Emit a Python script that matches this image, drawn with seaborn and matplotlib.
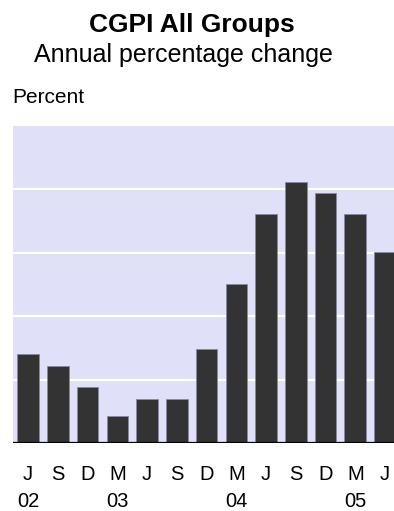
import numpy as np
import pandas as pd
import matplotlib
matplotlib.use("Agg")
import matplotlib.pyplot as plt
import seaborn as sns

# quarterly observations, Jun 2002 to Jun 2005
periods = ["Jun-02", "Sep-02", "Dec-02", "Mar-03", "Jun-03", "Sep-03", "Dec-03",
           "Mar-04", "Jun-04", "Sep-04", "Dec-04", "Mar-05", "Jun-05"]
month_labels = ["J", "S", "D", "M", "J", "S", "D", "M", "J", "S", "D", "M", "J"]
year_labels = ["02", "", "", "03", "", "", "", "04", "", "", "", "05", ""]
annual_change = [1.40, 1.21, 0.89, 0.42, 0.70, 0.70, 1.49,
                 2.51, 3.61, 4.12, 3.94, 3.61, 3.01]

BG = "#e0e0f8"
BAR = "#333333"

sns.set_theme(style="white")
plt.rcParams["font.family"] = ["Liberation Sans", "DejaVu Sans"]
plt.rcParams["text.color"] = "black"

df = pd.DataFrame({"period": periods, "change": annual_change})

fig = plt.figure(figsize=(3.94, 5.11), dpi=100)
ax = fig.add_axes([0.0322, 0.1331, 0.9678, 0.6203])
ax.set_facecolor(BG)

sns.barplot(data=df, x="period", y="change", order=periods, color=BAR,
            width=0.73, saturation=1, edgecolor="#8a8aa0", linewidth=0.6, ax=ax)

ax.set_ylim(0, 5)
ax.set_xlim(-0.52, len(periods) - 0.7)
ax.set_yticks([1, 2, 3, 4])
ax.yaxis.grid(True, color="white", linewidth=1.6)
ax.set_axisbelow(True)
ax.tick_params(axis="y", left=False, labelleft=False)
ax.axhline(0, color="black", linewidth=1.6, zorder=5)
for s in ax.spines.values():
    s.set_visible(False)

ax.set_xticks(range(len(periods)))
ax.set_xticklabels(month_labels, fontsize=14.5, color="black")
ax.tick_params(axis="x", bottom=False, pad=10, labelcolor="black")
for i, yr in enumerate(year_labels):
    if yr:
        ax.text(i, -0.186, yr, transform=ax.get_xaxis_transform(),
                ha="center", va="center", fontsize=14.5, color="black")
ax.set_xlabel("")
ax.set_ylabel("")

fig.text(0.488, 0.951, "CGPI All Groups", ha="center", va="center",
         fontsize=19, fontweight="bold", color="black")
fig.text(0.465, 0.892, "Annual percentage change", ha="center", va="center",
         fontsize=18, color="black")
fig.text(0.03, 0.81, "Percent", ha="left", va="center", fontsize=15,
         color="black")

fig.savefig("out.png", dpi=100, facecolor="white")
